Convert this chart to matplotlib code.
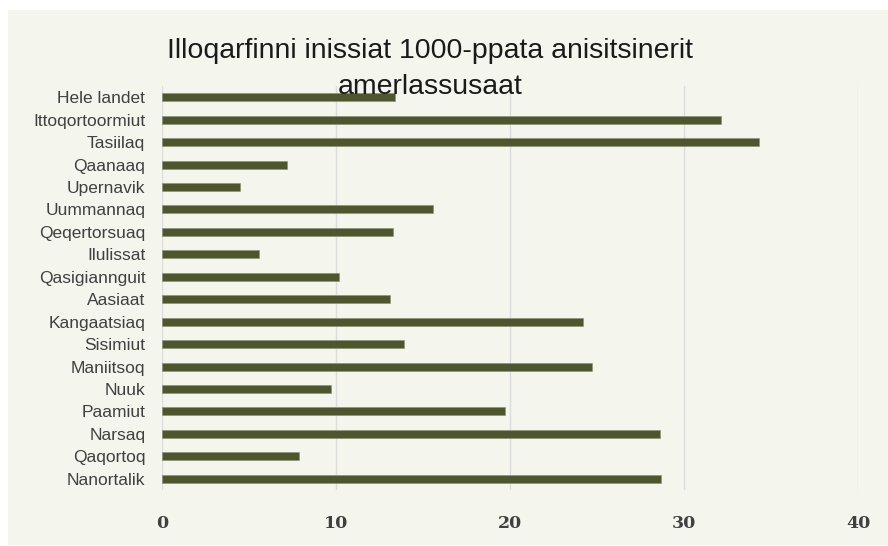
import numpy as np
import matplotlib
matplotlib.use("Agg")
import matplotlib.pyplot as plt

# data, top row first
places = ["Hele landet", "Ittoqortoormiut", "Tasiilaq", "Qaanaaq", "Upernavik",
          "Uummannaq", "Qeqertorsuaq", "Ilulissat", "Qasigiannguit", "Aasiaat",
          "Kangaatsiaq", "Sisimiut", "Maniitsoq", "Nuuk", "Paamiut", "Narsaq",
          "Qaqortoq", "Nanortalik"]
values = [13.4, 32.1, 34.3, 7.2, 4.5, 15.6, 13.3, 5.6, 10.2, 13.1,
          24.2, 13.9, 24.7, 9.7, 19.7, 28.6, 7.9, 28.7]
xticks = [0, 10, 20, 30, 40]

title = "Illoqarfinni inissiat 1000-ppata anisitsinerit\namerlassusaat"

BAR = "#4e5630"
BG = "#f4f6ee"
GRID = "#dcdcdc"

fig = plt.figure(figsize=(8.88, 5.46), dpi=100)
fig.patch.set_facecolor("white")

# chart area background (white margin at top/left like the reference)
bg = fig.add_axes([8 / 888, 1 - 545 / 546, 880 / 888, 535 / 546], zorder=0)
bg.set_facecolor(BG)
bg.set_xticks([])
bg.set_yticks([])
for s in bg.spines.values():
    s.set_visible(False)

ax = fig.add_axes([162 / 888, 1 - 490 / 546, 696 / 888, 404 / 546], zorder=1)
ax.set_facecolor("none")

y = np.arange(len(places))
ax.barh(y, values, height=0.36, color=BAR, edgecolor="#8a9070", linewidth=0.4, zorder=3)
ax.set_ylim(len(places) - 0.5, -0.5)
ax.set_xlim(0, 40)
ax.set_yticks(y)
ax.set_yticklabels(places, fontsize=12.5, color="#404040", family="Liberation Sans")
ax.set_xticks(xticks)
ax.set_xticklabels([str(t) for t in xticks], fontsize=12.5, color="#404040",
                   family="DejaVu Serif", fontweight="bold")
ax.tick_params(axis="y", length=0, pad=12)
ax.tick_params(axis="x", length=0, pad=18)
ax.grid(axis="x", color=GRID, linewidth=1, zorder=0)
for s in ax.spines.values():
    s.set_visible(False)

fig.text(430 / 888, 1 - 69 / 546, title, ha="center", va="center", fontsize=20.5,
         family="Liberation Sans", color="#1a1a1a", linespacing=1.45, zorder=5)

fig.savefig("out.png", dpi=100, facecolor=fig.get_facecolor())
